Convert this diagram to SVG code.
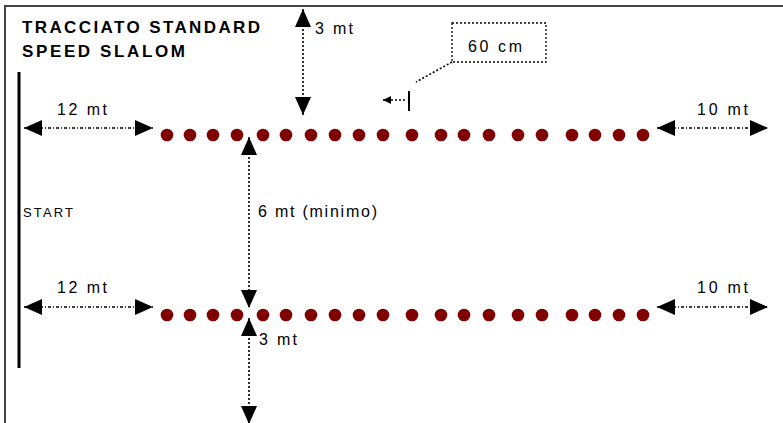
<svg xmlns="http://www.w3.org/2000/svg" width="783" height="423" viewBox="0 0 783 423">
  <style>
    .title { font-family: "Liberation Sans", Arial, sans-serif; font-weight: bold; font-size: 17px; fill: #000; }
    .lbl { font-family: "Liberation Sans", Arial, sans-serif; font-size: 16px; fill: #000; }
    .small { font-family: "Liberation Sans", Arial, sans-serif; font-size: 13px; fill: #000; }
    .dim { stroke: #000; stroke-width: 1.3; fill: none; stroke-dasharray: 3 2 1 2; }
    .vdim { stroke: #000; stroke-width: 1.6; fill: none; stroke-dasharray: 2 2; }
    .cone { fill: #800000; }
  </style>
  <defs>
    <marker id="ah" viewBox="0 0 18 16" markerWidth="18" markerHeight="16" refX="18" refY="8" orient="auto-start-reverse" markerUnits="userSpaceOnUse">
      <path d="M0,0 L18,8 L0,16 Z" fill="#000"/>
    </marker>
    <marker id="ahs" viewBox="0 0 8 8" markerWidth="8" markerHeight="10" refX="8" refY="4" orient="auto-start-reverse" markerUnits="userSpaceOnUse">
      <path d="M0,0 L8,4 L0,8 Z" fill="#000"/>
    </marker>
    <circle id="c" r="6.3" class="cone"/>
  </defs>
  <rect width="783" height="423" fill="#fff"/>

  <g id="frame">
    <path d="M5,430 L5,6 L790,6" stroke="#444" stroke-width="2" fill="none"/>
  </g>

  <g id="title">
    <text class="title" x="22" y="33" textLength="238" lengthAdjust="spacing">TRACCIATO STANDARD</text>
    <text class="title" x="22" y="57" textLength="163" lengthAdjust="spacing">SPEED SLALOM</text>
  </g>

  <g id="start">
    <line x1="19" y1="72" x2="19" y2="368" stroke="#000" stroke-width="3"/>
    <text class="small" x="23" y="217" textLength="50" lengthAdjust="spacing">START</text>
  </g>

  <g id="row1">
    <use href="#c" x="167" y="135"/><use href="#c" x="190" y="135"/><use href="#c" x="213" y="135"/><use href="#c" x="237" y="135"/>
    <use href="#c" x="263" y="135"/><use href="#c" x="286" y="135"/><use href="#c" x="311" y="135"/><use href="#c" x="335" y="135"/>
    <use href="#c" x="359" y="135"/><use href="#c" x="383" y="135"/><use href="#c" x="412" y="135"/><use href="#c" x="441" y="135"/>
    <use href="#c" x="464" y="135"/><use href="#c" x="489" y="135"/><use href="#c" x="518" y="135"/><use href="#c" x="542" y="135"/>
    <use href="#c" x="572" y="135"/><use href="#c" x="595" y="135"/><use href="#c" x="619" y="135"/><use href="#c" x="643" y="135"/>
  </g>

  <g id="row2">
    <use href="#c" x="167" y="315"/><use href="#c" x="190" y="315"/><use href="#c" x="213" y="315"/><use href="#c" x="237" y="315"/>
    <use href="#c" x="263" y="315"/><use href="#c" x="286" y="315"/><use href="#c" x="311" y="315"/><use href="#c" x="335" y="315"/>
    <use href="#c" x="359" y="315"/><use href="#c" x="383" y="315"/><use href="#c" x="412" y="315"/><use href="#c" x="441" y="315"/>
    <use href="#c" x="464" y="315"/><use href="#c" x="489" y="315"/><use href="#c" x="518" y="315"/><use href="#c" x="542" y="315"/>
    <use href="#c" x="572" y="315"/><use href="#c" x="595" y="315"/><use href="#c" x="619" y="315"/><use href="#c" x="643" y="315"/>
  </g>

  <g id="connectors">
    <line class="dim" x1="24" y1="128" x2="153" y2="128" marker-start="url(#ah)" marker-end="url(#ah)"/>
    <line class="dim" x1="657" y1="128" x2="768" y2="128" marker-start="url(#ah)" marker-end="url(#ah)"/>
    <line class="dim" x1="24" y1="307" x2="153" y2="307" marker-start="url(#ah)" marker-end="url(#ah)"/>
    <line class="dim" x1="657" y1="307" x2="768" y2="307" marker-start="url(#ah)" marker-end="url(#ah)"/>
    <line class="vdim" x1="303" y1="9" x2="303" y2="115" marker-start="url(#ah)" marker-end="url(#ah)"/>
    <line class="vdim" x1="249" y1="137" x2="249" y2="308" marker-start="url(#ah)" marker-end="url(#ah)"/>
    <line class="vdim" x1="249" y1="318" x2="249" y2="424" marker-start="url(#ah)" marker-end="url(#ah)"/>
    <line class="vdim" x1="452" y1="62" x2="416" y2="82" stroke-width="1.3"/>
    <line x1="409" y1="91" x2="409" y2="111" stroke="#000" stroke-width="2"/>
    <line class="vdim" x1="383" y1="100" x2="407" y2="100" stroke-width="1.2" marker-start="url(#ahs)"/>
  </g>

  <g id="labels">
    <text class="lbl" x="57" y="115" textLength="50" lengthAdjust="spacing">12 mt</text>
    <text class="lbl" x="57" y="293" textLength="50" lengthAdjust="spacing">12 mt</text>
    <text class="lbl" x="697" y="115" textLength="51" lengthAdjust="spacing">10 mt</text>
    <text class="lbl" x="697" y="293" textLength="51" lengthAdjust="spacing">10 mt</text>
    <text class="lbl" x="315" y="34" textLength="38" lengthAdjust="spacing">3 mt</text>
    <text class="lbl" x="258" y="217" textLength="119" lengthAdjust="spacing">6 mt (minimo)</text>
    <text class="lbl" x="259" y="345" textLength="38" lengthAdjust="spacing">3 mt</text>
  </g>

  <g id="note60">
    <rect x="452" y="23" width="94" height="39" fill="none" stroke="#000" stroke-width="1.3" stroke-dasharray="2 2"/>
    <text class="lbl" x="468" y="52" font-size="15" textLength="54" lengthAdjust="spacing">60 cm</text>
  </g>
</svg>
